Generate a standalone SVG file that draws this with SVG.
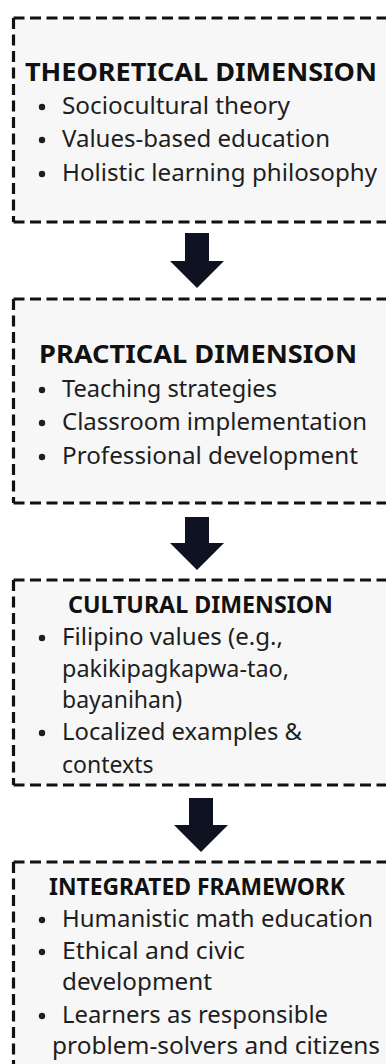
<svg xmlns="http://www.w3.org/2000/svg" width="386" height="1064" viewBox="0 0 386 1064">
<style>
.bg{fill:#f7f7f7;stroke:none}
.edge{fill:none;stroke:#111;stroke-width:3.2;stroke-dasharray:11 5.5}
.title{font-family:"Noto Sans","Open Sans","Liberation Sans",sans-serif;font-weight:700;fill:#111}
.t1{font-size:25px}
.t2{font-size:23px}
.item{font-family:"Noto Sans","Open Sans","Liberation Sans",sans-serif;font-size:23px;fill:#1e1e1e}
.dot{fill:#1e1e1e}
.arrow{fill:#0f1220}
</style>
<rect x="0" y="0" width="386" height="1064" fill="#ffffff"/>
<g id="theoretical">
<rect class="bg" x="13.5" y="18" width="380" height="204"/>
<path class="edge" d="M13.5 18 H400 M13.5 18 V222 M13.5 222 H400"/>
<text class="title t1" x="25" y="81" textLength="352" lengthAdjust="spacingAndGlyphs">THEORETICAL DIMENSION</text>
<circle class="dot" cx="42" cy="107" r="3.2"/>
<text class="item" x="62" y="114" textLength="228" lengthAdjust="spacingAndGlyphs">Sociocultural theory</text>
<circle class="dot" cx="42" cy="140" r="3.2"/>
<text class="item" x="62" y="147" textLength="268" lengthAdjust="spacingAndGlyphs">Values-based education</text>
<circle class="dot" cx="42" cy="174" r="3.2"/>
<text class="item" x="62" y="181" textLength="315" lengthAdjust="spacingAndGlyphs">Holistic learning philosophy</text>
</g>
<g id="practical">
<rect class="bg" x="13.5" y="299" width="380" height="204"/>
<path class="edge" d="M13.5 299 H400 M13.5 299 V503 M13.5 503 H400"/>
<text class="title t1" x="39" y="363" textLength="318" lengthAdjust="spacingAndGlyphs">PRACTICAL DIMENSION</text>
<circle class="dot" cx="42" cy="390" r="3.2"/>
<text class="item" x="62" y="397" textLength="215" lengthAdjust="spacingAndGlyphs">Teaching strategies</text>
<circle class="dot" cx="42" cy="423" r="3.2"/>
<text class="item" x="62" y="430" textLength="305" lengthAdjust="spacingAndGlyphs">Classroom implementation</text>
<circle class="dot" cx="42" cy="457" r="3.2"/>
<text class="item" x="62" y="464" textLength="296" lengthAdjust="spacingAndGlyphs">Professional development</text>
</g>
<g id="cultural">
<rect class="bg" x="13.5" y="580" width="380" height="205"/>
<path class="edge" d="M13.5 580 H400 M13.5 580 V785 M13.5 785 H400"/>
<text class="title t2" x="68" y="613" textLength="265" lengthAdjust="spacingAndGlyphs">CULTURAL DIMENSION</text>
<circle class="dot" cx="42" cy="638" r="3.2"/>
<text class="item" x="62" y="645" textLength="221" lengthAdjust="spacingAndGlyphs">Filipino values (e.g.,</text>
<text class="item" x="62" y="677" textLength="227" lengthAdjust="spacingAndGlyphs">pakikipagkapwa-tao,</text>
<text class="item" x="62" y="708">bayanihan)</text>
<circle class="dot" cx="42" cy="733" r="3.2"/>
<text class="item" x="62" y="740" textLength="240" lengthAdjust="spacingAndGlyphs">Localized examples &amp;</text>
<text class="item" x="62" y="773">contexts</text>
</g>
<g id="integrated">
<rect class="bg" x="13.5" y="862" width="380" height="220"/>
<path class="edge" d="M13.5 862 H400 M13.5 862 V1080"/>
<text class="title t2" x="49" y="895" textLength="296" lengthAdjust="spacingAndGlyphs">INTEGRATED FRAMEWORK</text>
<circle class="dot" cx="42" cy="920" r="3.2"/>
<text class="item" x="62" y="927" textLength="311" lengthAdjust="spacingAndGlyphs">Humanistic math education</text>
<circle class="dot" cx="42" cy="952" r="3.2"/>
<text class="item" x="62" y="959" textLength="183" lengthAdjust="spacingAndGlyphs">Ethical and civic</text>
<text class="item" x="62" y="990" textLength="150" lengthAdjust="spacingAndGlyphs">development</text>
<circle class="dot" cx="42" cy="1016" r="3.2"/>
<text class="item" x="62" y="1023" textLength="266" lengthAdjust="spacingAndGlyphs">Learners as responsible</text>
<text class="item" x="52" y="1054" textLength="328" lengthAdjust="spacingAndGlyphs">problem-solvers and citizens</text>
</g>
<g id="connectors">
<polygon class="arrow" points="185,233 209,233 209,261 224,261 197,288 170,261 185,261"/>
<polygon class="arrow" points="185,517 209,517 209,543 224,543 197,570 170,543 185,543"/>
<polygon class="arrow" points="189,798 213,798 213,825 228,825 201,852 174,825 189,825"/>
</g>
</svg>
